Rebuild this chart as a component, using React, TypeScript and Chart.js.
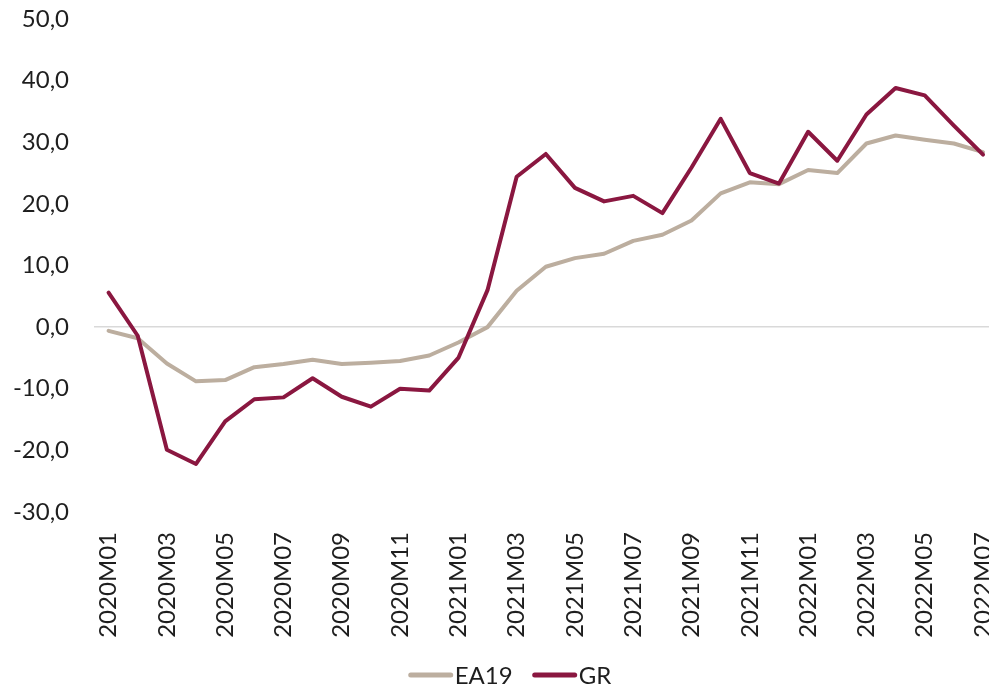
import React, { useEffect, useRef } from "react";
import { Chart, registerables } from "chart.js";

Chart.register(...registerables);

const months: string[] = [
  "2020M01", "2020M02", "2020M03", "2020M04", "2020M05", "2020M06",
  "2020M07", "2020M08", "2020M09", "2020M10", "2020M11", "2020M12",
  "2021M01", "2021M02", "2021M03", "2021M04", "2021M05", "2021M06",
  "2021M07", "2021M08", "2021M09", "2021M10", "2021M11", "2021M12",
  "2022M01", "2022M02", "2022M03", "2022M04", "2022M05", "2022M06",
  "2022M07",
];

const ea19: number[] = [
  -0.6, -1.8, -5.9, -8.8, -8.6, -6.5, -6.0, -5.3, -6.0, -5.8, -5.5, -4.6,
  -2.5, 0.0, 5.9, 9.8, 11.2, 11.9, 14.0, 15.0, 17.3, 21.7, 23.5, 23.2,
  25.5, 25.0, 29.8, 31.1, 30.4, 29.8, 28.4,
];

const gr: number[] = [
  5.6, -1.4, -19.9, -22.2, -15.3, -11.7, -11.4, -8.3, -11.3, -12.9, -10.0, -10.3,
  -5.0, 6.0, 24.4, 28.1, 22.6, 20.4, 21.3, 18.5, 25.9, 33.8, 25.0, 23.3,
  31.7, 27.0, 34.5, 38.8, 37.6, 32.7, 28.0,
];

const seriesNames = ["EA19", "GR"];
const seriesColors = ["#bcae9f", "#8a1740"];

const yMin = -30;
const yMax = 50;
const yStep = 10;

const FONT = "Lato, 'Open Sans', sans-serif";
const TEXT = "#1e1e1e";

const legendPlugin = {
  id: "customLegend",
  afterDraw(chart: any) {
    const ctx = chart.ctx;
    ctx.save();
    ctx.font = `24px ${FONT}`;
    ctx.textBaseline = "middle";
    ctx.textAlign = "left";
    const lineW = 44;
    const gap = 2;
    const itemGap = 20;
    const widths = seriesNames.map((n) => lineW + gap + ctx.measureText(n).width);
    const total = widths.reduce((a, b) => a + b, 0) + itemGap * (seriesNames.length - 1);
    let x = 510 - total / 2;
    const y = 675;
    seriesNames.forEach((n, i) => {
      ctx.strokeStyle = seriesColors[i];
      ctx.lineWidth = 5;
      ctx.lineCap = "round";
      ctx.beginPath();
      ctx.moveTo(x + 2, y);
      ctx.lineTo(x + lineW - 2, y);
      ctx.stroke();
      ctx.fillStyle = TEXT;
      ctx.fillText(n, x + lineW + gap, y + 1);
      x += widths[i] + itemGap;
    });
    ctx.restore();
  },
};

export default function App() {
  const ref = useRef<HTMLCanvasElement | null>(null);

  useEffect(() => {
    if (!ref.current) return;
    const chart = new Chart(ref.current, {
      type: "line",
      data: {
        labels: months,
        datasets: [
          {
            label: seriesNames[0],
            data: ea19,
            borderColor: seriesColors[0],
            backgroundColor: seriesColors[0],
            borderWidth: 4,
            pointRadius: 0,
            tension: 0,
            order: 1,
            borderCapStyle: "round",
            borderJoinStyle: "round",
          },
          {
            label: seriesNames[1],
            data: gr,
            borderColor: seriesColors[1],
            backgroundColor: seriesColors[1],
            borderWidth: 4,
            pointRadius: 0,
            tension: 0,
            order: 0,
            borderCapStyle: "round",
            borderJoinStyle: "round",
          },
        ],
      },
      options: {
        responsive: false,
        animation: false,
        layout: { padding: { top: 19, right: 2.4, bottom: 46, left: 0 } },
        plugins: {
          legend: { display: false },
          tooltip: { enabled: false },
        },
        scales: {
          x: {
            offset: true,
            grid: { display: false, drawTicks: false },
            border: { display: false },
            afterFit: (scale: any) => {
              scale.height = 130;
              scale.paddingLeft = 0;
              scale.paddingRight = 0;
            },
            ticks: {
              autoSkip: false,
              minRotation: 90,
              maxRotation: 90,
              padding: 20,
              color: TEXT,
              font: { family: FONT, size: 24 },
              callback: (_v: any, i: number) => (i % 2 === 0 ? months[i] : ""),
            },
          },
          y: {
            min: yMin,
            max: yMax,
            afterFit: (scale: any) => {
              scale.width = 94;
              scale.paddingTop = 0;
              scale.paddingBottom = 0;
            },
            grid: {
              drawTicks: false,
              lineWidth: 1.5,
              color: (c: any) => (c.tick && c.tick.value === 0 ? "#d9d9d9" : "rgba(0,0,0,0)"),
            },
            border: { display: false },
            ticks: {
              stepSize: yStep,
              padding: 25,
              color: TEXT,
              font: { family: FONT, size: 24 },
              callback: (v: any) => Number(v).toFixed(1).replace(".", ","),
            },
          },
        },
      },
      plugins: [legendPlugin],
    });
    return () => chart.destroy();
  }, []);

  return (
    <div
      style={{
        position: "absolute",
        left: 0,
        top: 0,
        width: 989,
        height: 688,
        overflow: "hidden",
        background: "#fff",
      }}
    >
      <canvas ref={ref} width={1000} height={688} style={{ display: "block" }} />
    </div>
  );
}
